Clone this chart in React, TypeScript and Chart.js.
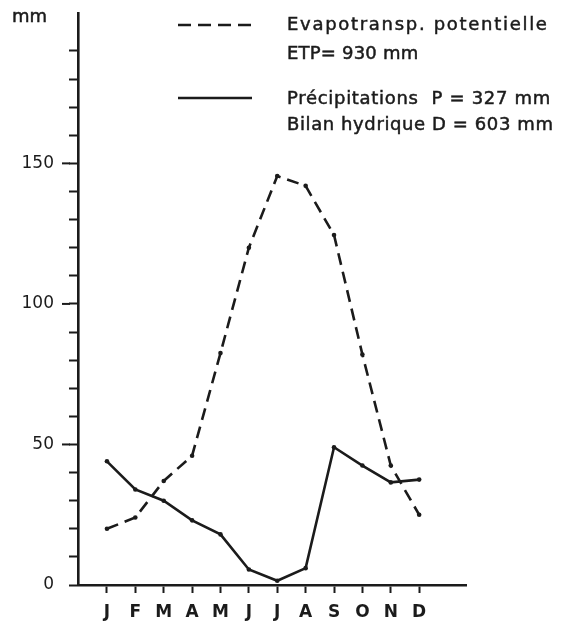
import React, { useEffect, useRef } from 'react';
import { Chart, registerables } from 'chart.js';

Chart.register(...registerables);

// ---- data ----
const months = ['J', 'F', 'M', 'A', 'M', 'J', 'J', 'A', 'S', 'O', 'N', 'D'];
const etpValues = [20, 24, 37, 46, 82.5, 120, 145.5, 142, 124.5, 82, 42.5, 25];
const precipValues = [44, 34, 30, 23, 18, 5.5, 1.5, 6, 49, 42.5, 36.5, 37.5];
const yMinorTicks = [0, 10, 20, 30, 40, 50, 60, 70, 80, 90, 100, 110, 120, 130, 140, 150, 160, 170, 180, 190];
const yMajorTicks = [0, 50, 100, 150];
const unitLabel = 'mm';
const etpLegend = ['Evapotransp. potentielle', 'ETP= 930 mm'];
const precipLegend = ['Précipitations  P = 327 mm', 'Bilan hydrique D = 603 mm'];

const INK = '#1b1b1b';
const FONT = '"DejaVu Sans", sans-serif';

function drawText(ctx: CanvasRenderingContext2D, text: string, x: number, y: number, spacing: number) {
  (ctx as any).letterSpacing = `${spacing}px`;
  ctx.fillText(text, x, y);
  ctx.strokeText(text, x, y);
  (ctx as any).letterSpacing = '0px';
}

const overlay = {
  id: 'overlay',
  afterDraw(chart: any) {
    const ctx = chart.ctx as CanvasRenderingContext2D;
    const ys = chart.scales.y;
    ctx.save();
    ctx.strokeStyle = INK;
    ctx.fillStyle = INK;
    // longer major ticks
    ctx.lineWidth = 2;
    yMajorTicks.forEach((v) => {
      if (v === 0) return;
      const py = ys.getPixelForValue(v);
      ctx.beginPath();
      ctx.moveTo(ys.right - 16, py);
      ctx.lineTo(ys.right - 8, py);
      ctx.stroke();
    });
    // legend samples
    ctx.lineWidth = 2.6;
    ctx.setLineDash([13, 7]);
    ctx.beginPath();
    ctx.moveTo(178, 25);
    ctx.lineTo(252, 25);
    ctx.stroke();
    ctx.setLineDash([]);
    ctx.beginPath();
    ctx.moveTo(178, 98);
    ctx.lineTo(252, 98);
    ctx.stroke();
    // texts
    ctx.lineWidth = 0.5;
    ctx.textBaseline = 'middle';
    ctx.textAlign = 'left';
    ctx.font = `18px ${FONT}`;
    drawText(ctx, unitLabel, 12, 17, 0);
    drawText(ctx, etpLegend[0], 287, 25, 1.7);
    drawText(ctx, etpLegend[1], 287, 54, 0.2);
    drawText(ctx, precipLegend[0], 287, 99, 0.7);
    drawText(ctx, precipLegend[1], 287, 125, 0.6);
    ctx.restore();
  },
};

export default function App() {
  const ref = useRef<HTMLCanvasElement | null>(null);

  useEffect(() => {
    if (!ref.current) return;
    const chart = new Chart(ref.current, {
      type: 'line',
      data: {
        datasets: [
          {
            label: 'ETP',
            data: etpValues.map((v, i) => ({ x: i, y: v })),
            borderColor: INK,
            backgroundColor: INK,
            borderWidth: 2.6,
            borderDash: [12, 7],
            pointRadius: 2.3,
            pointBorderWidth: 0,
            pointBackgroundColor: INK,
            tension: 0,
            fill: false,
          },
          {
            label: 'P',
            data: precipValues.map((v, i) => ({ x: i, y: v })),
            borderColor: INK,
            backgroundColor: INK,
            borderWidth: 2.6,
            pointRadius: 2.3,
            pointBorderWidth: 0,
            pointBackgroundColor: INK,
            tension: 0,
            fill: false,
          },
        ],
      },
      options: {
        responsive: false,
        animation: false,
        layout: { padding: { left: 0, right: 102, top: 13, bottom: 0 } },
        plugins: { legend: { display: false }, tooltip: { enabled: false } },
        scales: {
          x: {
            type: 'linear',
            min: -1.02,
            max: 12.65,
            afterFit: (s: any) => {
              s.height = 38;
              s.paddingLeft = 0;
              s.paddingRight = 0;
              s.paddingTop = 0;
              s.paddingBottom = 0;
            },
            afterBuildTicks: (s: any) => {
              s.ticks = months.map((_, i) => ({ value: i }));
            },
            grid: {
              display: true,
              drawOnChartArea: false,
              drawTicks: true,
              tickLength: 8,
              tickWidth: 2,
              tickColor: INK,
            },
            border: { display: true, color: INK, width: 2.6 },
            ticks: {
              autoSkip: false,
              maxRotation: 0,
              padding: 9,
              color: INK,
              font: { family: FONT, size: 17, weight: 'bold' },
              callback: (v: any) => months[Math.round(Number(v))] ?? '',
            },
          },
          y: {
            type: 'linear',
            min: 0,
            max: 203.5,
            afterFit: (s: any) => {
              s.width = 78;
              s.paddingLeft = 0;
              s.paddingRight = 0;
              s.paddingTop = 0;
              s.paddingBottom = 0;
            },
            afterBuildTicks: (s: any) => {
              s.ticks = yMinorTicks.map((v) => ({ value: v }));
            },
            grid: {
              display: true,
              drawOnChartArea: false,
              drawTicks: true,
              tickLength: 9,
              tickWidth: 2,
              tickColor: INK,
            },
            border: { display: true, color: INK, width: 2.6 },
            ticks: {
              autoSkip: false,
              padding: 15,
              color: INK,
              font: { family: FONT, size: 17 },
              callback: (v: any) => (yMajorTicks.includes(Number(v)) ? String(v) : ''),
            },
          },
        },
      },
      plugins: [overlay],
    } as any);
    return () => chart.destroy();
  }, []);

  return (
    <div style={{ position: 'fixed', left: 0, top: 0, width: 568, height: 623, background: '#fff' }}>
      <canvas ref={ref} width={568} height={623} style={{ display: 'block' }} />
    </div>
  );
}
